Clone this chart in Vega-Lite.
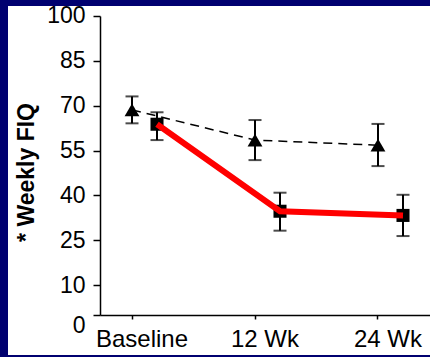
{
  "$schema": "https://vega.github.io/schema/vega-lite/v6.json",
  "width": 422,
  "height": 349,
  "autosize": {"type": "none"},
  "padding": {"left": 8, "top": 6, "right": 0, "bottom": 2},
  "background": "#000070",
  "config": {"view": {"stroke": null, "fill": "white"}, "font": "Liberation Sans"},
  "data": {
    "values": [
      {"time": "Baseline", "group": "Comparator", "mean": 68.6, "lo": 64.1, "hi": 73.1},
      {"time": "12 Wk", "group": "Comparator", "mean": 58.5, "lo": 51.8, "hi": 65.2},
      {"time": "24 Wk", "group": "Comparator", "mean": 56.8, "lo": 49.8, "hi": 63.9},
      {"time": "Baseline", "group": "Treatment", "mean": 63.8, "lo": 58.5, "hi": 67.8},
      {"time": "12 Wk", "group": "Treatment", "mean": 34.7, "lo": 28.2, "hi": 40.9},
      {"time": "24 Wk", "group": "Treatment", "mean": 33.3, "lo": 26.4, "hi": 40.2}
    ]
  },
  "encoding": {
    "x": {
      "field": "time",
      "type": "nominal",
      "sort": ["Baseline", "12 Wk", "24 Wk"],
      "scale": {"type": "band", "paddingInner": 0.5, "paddingOuter": 0.4655, "align": 0.8144},
      "axis": {
        "title": null,
        "labelAngle": 0,
        "offset": -40,
        "domainDash": [0, 92, 1000],
        "domainColor": "black",
        "domainWidth": 1.5,
        "tickColor": "black",
        "tickWidth": 1.5,
        "tickSize": 4,
        "labelFont": "Liberation Sans",
        "labelFontSize": 24,
        "labelColor": "black",
        "labelPadding": 8,
        "labelOffset": 10
      }
    },
    "xOffset": {
      "field": "group",
      "type": "nominal",
      "sort": ["Comparator", "Treatment"],
      "scale": {"type": "point", "padding": 0.73, "align": 0.8425}
    },
    "y": {
      "field": "mean",
      "type": "quantitative",
      "scale": {"domain": [-13.38, 103.34], "nice": false, "zero": false},
      "axis": {
        "title": "* Weekly FIQ",
        "values": [0, 10, 25, 40, 55, 70, 85, 100],
        "offset": -92,
        "grid": false,
        "domainDash": [0, 40, 299, 1000],
        "domainColor": "black",
        "domainWidth": 1.5,
        "tickColor": "black",
        "tickWidth": 1.5,
        "tickSize": 7,
        "labelFont": "Liberation Sans",
        "labelFontSize": 23,
        "labelColor": "black",
        "labelPadding": 8,
        "labelBaseline": {"condition": {"test": "datum.value === 0", "value": "top"}, "value": "middle"},
        "titleFont": "Liberation Sans",
        "titleFontSize": 23,
        "titleFontWeight": "bold",
        "titleColor": "black",
        "titlePadding": 8,
        "titleY": 166
      }
    }
  },
  "layer": [
    {
      "mark": {"type": "rule", "color": "black", "strokeWidth": 2},
      "encoding": {
        "y": {
          "field": "lo",
          "type": "quantitative",
          "scale": {"domain": [-13.38, 103.34], "nice": false, "zero": false},
          "axis": {
            "title": "* Weekly FIQ",
            "values": [0, 10, 25, 40, 55, 70, 85, 100],
            "offset": -92,
            "grid": false,
            "domainDash": [0, 40, 299, 1000],
            "domainColor": "black",
            "domainWidth": 1.5,
            "tickColor": "black",
            "tickWidth": 1.5,
            "tickSize": 7,
            "labelFont": "Liberation Sans",
            "labelFontSize": 23,
            "labelColor": "black",
            "labelPadding": 8,
            "labelBaseline": {"condition": {"test": "datum.value === 0", "value": "top"}, "value": "middle"},
            "titleFont": "Liberation Sans",
            "titleFontSize": 23,
            "titleFontWeight": "bold",
            "titleColor": "black",
            "titlePadding": 8,
            "titleY": 166
          }
        },
        "y2": {"field": "hi"}
      }
    },
    {
      "mark": {"type": "tick", "color": "black", "thickness": 2, "size": 13},
      "encoding": {
        "y": {
          "field": "lo",
          "type": "quantitative",
          "scale": {"domain": [-13.38, 103.34], "nice": false, "zero": false},
          "axis": {
            "title": "* Weekly FIQ",
            "values": [0, 10, 25, 40, 55, 70, 85, 100],
            "offset": -92,
            "grid": false,
            "domainDash": [0, 40, 299, 1000],
            "domainColor": "black",
            "domainWidth": 1.5,
            "tickColor": "black",
            "tickWidth": 1.5,
            "tickSize": 7,
            "labelFont": "Liberation Sans",
            "labelFontSize": 23,
            "labelColor": "black",
            "labelPadding": 8,
            "labelBaseline": {"condition": {"test": "datum.value === 0", "value": "top"}, "value": "middle"},
            "titleFont": "Liberation Sans",
            "titleFontSize": 23,
            "titleFontWeight": "bold",
            "titleColor": "black",
            "titlePadding": 8,
            "titleY": 166
          }
        }
      }
    },
    {
      "mark": {"type": "tick", "color": "black", "thickness": 2, "size": 13},
      "encoding": {
        "y": {
          "field": "hi",
          "type": "quantitative",
          "scale": {"domain": [-13.38, 103.34], "nice": false, "zero": false},
          "axis": {
            "title": "* Weekly FIQ",
            "values": [0, 10, 25, 40, 55, 70, 85, 100],
            "offset": -92,
            "grid": false,
            "domainDash": [0, 40, 299, 1000],
            "domainColor": "black",
            "domainWidth": 1.5,
            "tickColor": "black",
            "tickWidth": 1.5,
            "tickSize": 7,
            "labelFont": "Liberation Sans",
            "labelFontSize": 23,
            "labelColor": "black",
            "labelPadding": 8,
            "labelBaseline": {"condition": {"test": "datum.value === 0", "value": "top"}, "value": "middle"},
            "titleFont": "Liberation Sans",
            "titleFontSize": 23,
            "titleFontWeight": "bold",
            "titleColor": "black",
            "titlePadding": 8,
            "titleY": 166
          }
        }
      }
    },
    {
      "transform": [{"filter": "datum.group === 'Comparator'"}],
      "mark": {"type": "line", "color": "black", "strokeWidth": 1.5, "strokeDash": [9, 6]}
    },
    {
      "transform": [{"filter": "datum.group === 'Comparator'"}],
      "mark": {"type": "point", "shape": "triangle-up", "filled": true, "color": "black", "opacity": 1, "size": 220}
    },
    {
      "transform": [{"filter": "datum.group === 'Treatment'"}],
      "mark": {"type": "point", "shape": "square", "filled": true, "color": "black", "opacity": 1, "size": 170}
    },
    {
      "transform": [{"filter": "datum.group === 'Treatment'"}],
      "mark": {"type": "line", "color": "#ff0000", "strokeWidth": 6}
    }
  ]
}
